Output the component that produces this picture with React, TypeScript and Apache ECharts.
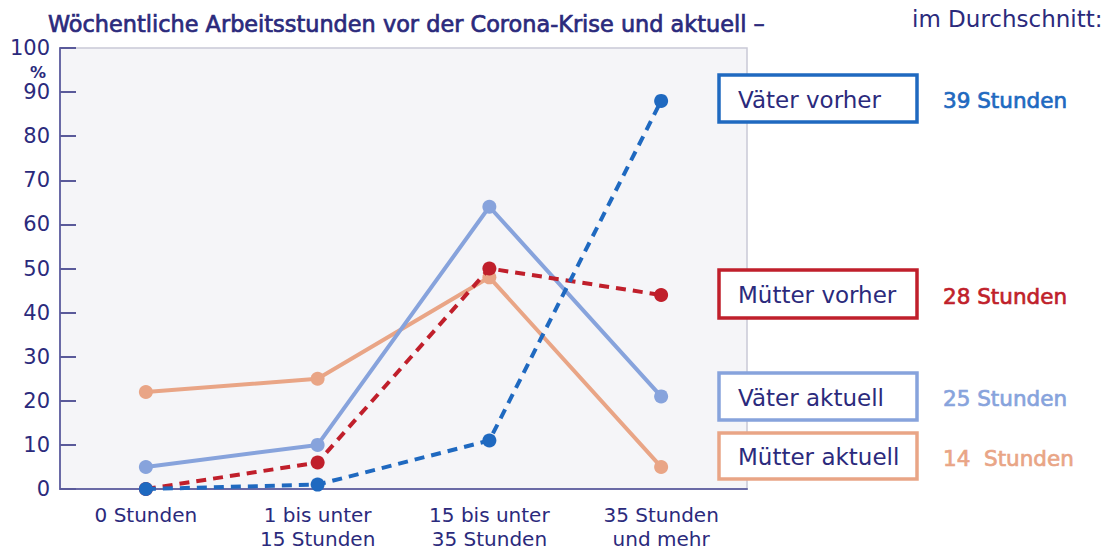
import React, { useEffect, useRef } from "react";
import * as echarts from "echarts";

const categories = ["0 Stunden", "1 bis unter\n15 Stunden", "15 bis unter\n35 Stunden", "35 Stunden\nund mehr"];
const yTicks = [0, 10, 20, 30, 40, 50, 60, 70, 80, 90, 100];
const vaeterVorher = [0, 1, 11, 88];
const muetterVorher = [0, 6, 50, 44];
const vaeterAktuell = [5, 10, 64, 21];
const muetterAktuell = [22, 25, 48, 5];
const seriesNames = ["Väter vorher", "Mütter vorher", "Väter aktuell", "Mütter aktuell"];
const averages = ["39 Stunden", "28 Stunden", "25 Stunden", "14  Stunden"];

const NAVY = "#2b2a7c";
const C_VV = "#1f69c0";
const C_MV = "#c01f2b";
const C_VA = "#87a3dc";
const C_MA = "#e9a586";
const FONT = "'DejaVu Sans', sans-serif";

export default function App() {
  const ref = useRef<HTMLDivElement>(null);
  useEffect(() => {
    if (!ref.current) return;
    const chart = echarts.init(ref.current, null, { renderer: "svg" });
    const mk = (name: string, data: number[], color: string, dashed: boolean, z: number) => ({
      name,
      type: "line",
      data,
      z,
      symbol: "circle",
      symbolSize: 14,
      itemStyle: { color },
      lineStyle: { color, width: 4, type: dashed ? [10, 7] : "solid" },
    });
    const boxes = [
      { y: 75, h: 47, color: C_VV, label: seriesNames[0], avg: averages[0] },
      { y: 270, h: 48, color: C_MV, label: seriesNames[1], avg: averages[1] },
      { y: 373, h: 47, color: C_VA, label: seriesNames[2], avg: averages[2] },
      { y: 433, h: 46, color: C_MA, label: seriesNames[3], avg: averages[3] },
    ];
    const graphics: any[] = [
      {
        type: "text",
        x: 48,
        y: 24,
        style: {
          text: "Wöchentliche Arbeitsstunden vor der Corona-Krise und aktuell –",
          font: `22.4px ${FONT}`,
          fill: NAVY,
          stroke: NAVY,
          lineWidth: 0.7,
          verticalAlign: "middle",
        },
      },
      {
        type: "text",
        x: 912,
        y: 19,
        style: { text: "im Durchschnitt:", font: `23px ${FONT}`, fill: NAVY, verticalAlign: "middle" },
      },
      {
        type: "text",
        x: 38,
        y: 72,
        style: { text: "%", font: `bold 16px ${FONT}`, fill: NAVY, align: "center", verticalAlign: "middle" },
      },
    ];
    boxes.forEach((b) => {
      graphics.push({
        type: "rect",
        shape: { x: 719, y: b.y, width: 198, height: b.h },
        style: { fill: "#ffffff", stroke: b.color, lineWidth: 3.5 },
        z: 10,
      });
      graphics.push({
        type: "text",
        x: 738,
        y: b.y + b.h / 2 + 1,
        style: { text: b.label, font: `23px ${FONT}`, fill: NAVY, verticalAlign: "middle" },
        z: 11,
      });
      graphics.push({
        type: "text",
        x: 943,
        y: b.y + b.h / 2 + 2,
        style: {
          text: b.avg,
          font: `21.5px ${FONT}`,
          fill: b.color,
          stroke: b.color,
          lineWidth: 0.7,
          verticalAlign: "middle",
        },
        z: 11,
      });
    });
    chart.setOption({
      animation: false,
      backgroundColor: "#ffffff",
      grid: {
        left: 60,
        right: 360,
        top: 48,
        bottom: 62,
        outerBoundsMode: "none",
        containLabel: false,
        show: true,
        backgroundColor: "#f5f5f8",
        borderColor: "#c9c9d6",
        borderWidth: 1.5,
      },
      xAxis: {
        type: "category",
        data: categories,
        boundaryGap: true,
        axisLine: { lineStyle: { color: "#6a6aa6", width: 2 } },
        axisTick: { show: false },
        axisLabel: { color: NAVY, fontSize: 20, fontFamily: FONT, lineHeight: 24, margin: 14, interval: 0 },
      },
      yAxis: {
        type: "value",
        min: 0,
        max: 100,
        interval: 10,
        splitLine: { show: false },
        axisLine: { show: true, lineStyle: { color: "#6a6aa6", width: 2 } },
        axisTick: { show: true, inside: true, length: 16, lineStyle: { color: "#5a5a9a", width: 2 } },
        axisLabel: {
          color: NAVY,
          fontSize: 21,
          fontFamily: FONT,
          margin: 10,
          padding: [12, 0, 0, 0],
          formatter: (v: number) => (yTicks.includes(v) ? String(v) : ""),
        },
      },
      series: [
        mk(seriesNames[3], muetterAktuell, C_MA, false, 2),
        mk(seriesNames[2], vaeterAktuell, C_VA, false, 3),
        mk(seriesNames[1], muetterVorher, C_MV, true, 4),
        mk(seriesNames[0], vaeterVorher, C_VV, true, 5),
      ],
      graphic: graphics,
    });
    return () => chart.dispose();
  }, []);
  return <div ref={ref} style={{ position: "fixed", left: 0, top: 0, width: 1107, height: 551 }} />;
}
